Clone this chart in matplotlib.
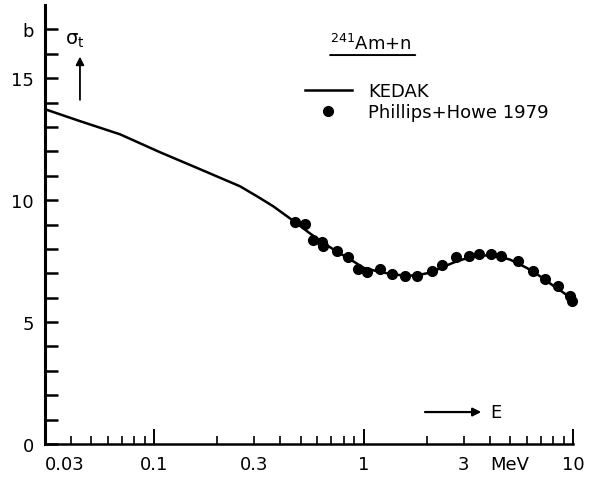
import matplotlib
matplotlib.use("Agg")
import matplotlib.pyplot as plt
from matplotlib.ticker import FixedLocator, FixedFormatter
from matplotlib.lines import Line2D

# KEDAK evaluated total cross section
kedak_E = [0.03, 0.0441, 0.0685, 0.106, 0.165, 0.256, 0.31, 0.369, 0.42, 0.47,
           0.55, 0.64, 0.74, 0.85, 1.0, 1.2, 1.4, 1.6, 1.8, 2.0, 2.2, 2.45, 2.7, 3.0,
           3.3, 3.6, 4.2, 5.0, 6.0, 7.0, 8.0, 9.0, 10.0]
kedak_sig = [13.73, 13.24, 12.70, 11.97, 11.27, 10.57, 10.15, 9.75, 9.40, 9.10,
             8.65, 8.25, 7.90, 7.60, 7.22, 7.05, 6.95, 6.90, 6.92, 7.00, 7.12, 7.30, 7.45, 7.58,
             7.68, 7.73, 7.73, 7.56, 7.22, 6.86, 6.50, 6.20, 5.90]

# Phillips+Howe 1979 measured points
ph_E = [0.469, 0.524, 0.572, 0.630, 0.639, 0.746, 0.844, 0.939, 1.035, 1.196, 1.365,
        1.57, 1.80, 2.12, 2.37, 2.74, 3.17, 3.55, 4.06, 4.54, 5.46, 6.44, 7.30, 8.44,
        9.67, 9.9]
ph_sig = [9.10, 9.02, 8.36, 8.28, 8.11, 7.91, 7.66, 7.17, 7.05, 7.17, 6.97,
          6.89, 6.89, 7.09, 7.34, 7.66, 7.70, 7.79, 7.79, 7.70, 7.50, 7.09, 6.76, 6.48,
          6.07, 5.85]

y_major = [0, 5, 10, 15, 17]
y_labels = ["0", "5", "10", "15", "b"]
x_major = [0.1, 1, 10]
x_major_labels = ["0.1", "1", "10"]
x_minor = [0.03, 0.04, 0.05, 0.06, 0.07, 0.08, 0.09,
           0.2, 0.3, 0.4, 0.5, 0.6, 0.7, 0.8, 0.9,
           2, 3, 4, 5, 6, 7, 8, 9]
x_minor_labels = ["0.03", "", "", "", "", "", "",
                  "", "0.3", "", "", "", "", "", "",
                  "", "3", "", "MeV", "", "", "", ""]

plt.rcParams["font.family"] = "DejaVu Sans"
fig = plt.figure(figsize=(5.99, 4.85), dpi=100)
ax = fig.add_axes([0.075, 0.0825, 0.882, 0.905])

ax.plot(kedak_E, kedak_sig, color="black", lw=1.8, label="KEDAK")
ax.plot(ph_E, ph_sig, "o", color="black", ms=7, clip_on=False,
        label="Phillips+Howe 1979")

ax.set_xscale("log")
ax.set_xlim(0.03, 10)
ax.set_ylim(0, 18)

for side in ["top", "right"]:
    ax.spines[side].set_visible(False)
ax.spines["left"].set_linewidth(2.2)
ax.spines["bottom"].set_linewidth(1.8)

ax.yaxis.set_major_locator(FixedLocator(y_major))
ax.yaxis.set_major_formatter(FixedFormatter(y_labels))
ax.yaxis.set_minor_locator(FixedLocator(range(0, 18)))
ax.tick_params(axis="y", which="both", direction="in", length=9, width=1.8,
               labelsize=13, pad=8)

ax.xaxis.set_major_locator(FixedLocator(x_major))
ax.xaxis.set_major_formatter(FixedFormatter(x_major_labels))
ax.xaxis.set_minor_locator(FixedLocator(x_minor))
ax.xaxis.set_minor_formatter(FixedFormatter(x_minor_labels))
ax.tick_params(axis="x", which="major", direction="in", length=11, width=1.4,
               labelsize=13, pad=8)
ax.tick_params(axis="x", which="minor", direction="in", length=6, width=1.2,
               labelsize=13, pad=8)
ax.xaxis.get_minor_ticks()[0].label1.set_horizontalalignment("left")

# sigma_t with upward arrow
ax.text(0.0374, 16.6, r"$\mathregular{\sigma_t}$", fontsize=14, ha="left", va="center")
ax.annotate("", xy=(0.0441, 16.0), xytext=(0.0441, 14.0),
            arrowprops=dict(arrowstyle="-|>", color="black", lw=1.3,
                            mutation_scale=12))

# energy arrow
ax.annotate("", xy=(3.75, 1.31), xytext=(1.9, 1.31),
            arrowprops=dict(arrowstyle="-|>", color="black", lw=1.6,
                            mutation_scale=12))
ax.text(4.0, 1.31, "E", fontsize=13, ha="left", va="center")

# reaction label with underline
ax.text(0.69, 16.2, r"$^{241}$Am+n", fontsize=13, ha="left", va="baseline")
ax.annotate("", xy=(1.76, 15.95), xytext=(0.69, 15.95),
            arrowprops=dict(arrowstyle="-", color="black", lw=1.4,
                            shrinkA=0, shrinkB=0))

handles = [Line2D([], [], color="black", lw=1.8),
           Line2D([], [], ls="none", marker="o", color="black", ms=7)]
ax.legend(handles, ["KEDAK", "Phillips+Howe 1979"], loc="upper left",
          bbox_to_anchor=(0.492, 0.825), frameon=False, fontsize=13,
          borderpad=0, borderaxespad=0, handlelength=2.6, handletextpad=0.9,
          labelspacing=0.2)

fig.savefig("out.png", dpi=100)
